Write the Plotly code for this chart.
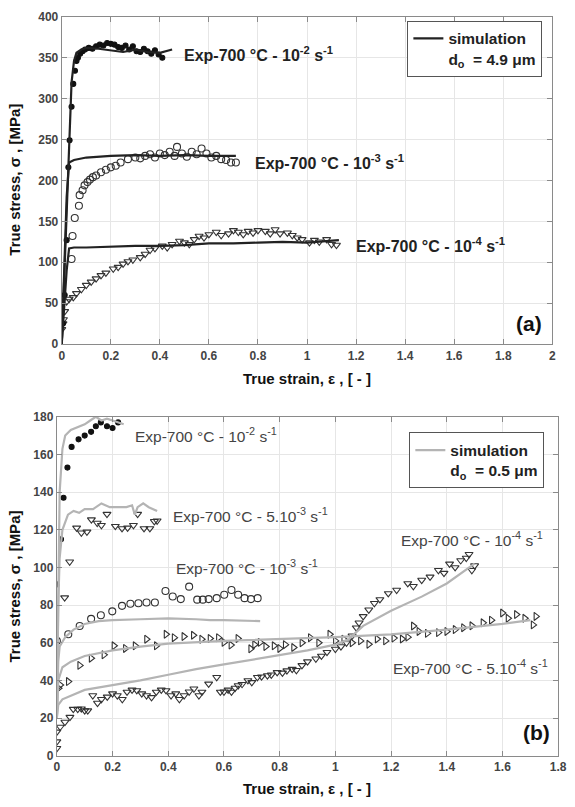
import plotly.graph_objects as go

# ---------------- Panel (a) data ----------------
sim2_a = [(0,0),(0.01,80),(0.02,180),(0.03,260),(0.04,320),(0.05,346),(0.06,356),(0.08,360),(0.1,362),(0.15,361),(0.2,359),(0.25,357),(0.3,360),(0.35,357),(0.4,356),(0.45,360)]
exp2_a = [(0.005,25),(0.012,60),(0.02,127),(0.027,216),(0.032,249),(0.04,290),(0.047,318),(0.054,334),(0.06,346),(0.066,350),(0.075,355),(0.085,358),(0.095,360),(0.11,362),(0.125,361),(0.14,364),(0.155,366),(0.17,365),(0.185,368),(0.2,367),(0.215,366),(0.23,363),(0.245,362),(0.26,365),(0.275,360),(0.29,364),(0.305,358),(0.32,357),(0.335,361),(0.35,358),(0.365,355),(0.38,359),(0.395,354),(0.41,350)]
sim3_a = [(0,0),(0.01,90),(0.02,180),(0.03,222),(0.05,225),(0.1,228),(0.15,229),(0.2,230),(0.3,231),(0.4,230),(0.5,231),(0.6,230),(0.71,230)]
exp3_a = [(0.04,104),(0.044,132),(0.053,154),(0.07,169),(0.073,182),(0.085,188),(0.093,194),(0.105,198),(0.115,201),(0.127,204),(0.14,206),(0.16,210),(0.18,213),(0.2,216),(0.22,218),(0.24,222),(0.27,226),(0.3,228),(0.32,227),(0.34,230),(0.36,232),(0.38,228),(0.4,233),(0.42,231),(0.44,235),(0.46,230),(0.47,241),(0.49,233),(0.51,229),(0.53,235),(0.55,232),(0.57,239),(0.59,233),(0.61,228),(0.63,230),(0.65,226),(0.67,225),(0.69,222),(0.71,222)]
sim4_a = [(0,0),(0.01,40),(0.02,90),(0.03,117),(0.05,118),(0.1,118),(0.2,119),(0.3,120),(0.4,120),(0.5,121),(0.6,123),(0.7,123),(0.8,124),(0.9,125),(1.0,124),(1.1,126),(1.13,127)]
exp4_a = [(0,18),(0.005,25),(0.007,30),(0.012,40),(0.02,52),(0.03,55),(0.047,57),(0.06,62),(0.08,67),(0.1,72),(0.12,76),(0.14,80),(0.16,84),(0.18,87),(0.21,92),(0.23,94),(0.25,98),(0.27,101),(0.29,103),(0.32,106),(0.34,110),(0.36,115),(0.38,117),(0.41,120),(0.43,118),(0.45,122),(0.48,126),(0.5,124),(0.52,122),(0.54,128),(0.56,132),(0.58,130),(0.6,134),(0.63,137),(0.65,133),(0.68,135),(0.7,139),(0.72,137),(0.74,134),(0.76,138),(0.78,136),(0.8,139),(0.83,138),(0.85,135),(0.87,140),(0.89,135),(0.92,136),(0.94,133),(0.96,130),(0.98,128),(1.01,124),(1.03,127),(1.05,125),(1.08,128),(1.1,122),(1.12,121)]

# ---------------- Panel (b) data ----------------
sim2_b = [(0,20),(0.005,100),(0.01,140),(0.02,163),(0.03,170),(0.05,173),(0.08,175),(0.1,176),(0.12,178),(0.14,180),(0.16,178),(0.18,179),(0.2,178),(0.22,177),(0.24,176)]
exp2_b = [(0,91),(0.015,115),(0.024,137),(0.038,153),(0.053,164),(0.078,168),(0.1,170),(0.123,172),(0.14,175),(0.158,177),(0.18,175),(0.2,174),(0.22,177)]
sim53_b = [(0,20),(0.005,80),(0.01,105),(0.02,120),(0.04,128),(0.06,130),(0.08,129),(0.1,131),(0.13,131),(0.16,134),(0.19,132),(0.22,132),(0.25,132),(0.27,133),(0.28,128),(0.29,132),(0.31,134),(0.33,132),(0.36,130)]
exp53_b = [(0.028,84),(0.046,103),(0.071,121),(0.088,118.4),(0.108,118.9),(0.124,125.4),(0.145,123.6),(0.16,122.4),(0.18,128.3),(0.21,121.9),(0.234,120.7),(0.254,121),(0.275,122.4),(0.29,128.3),(0.313,120.7),(0.334,120.7),(0.35,124.5),(0.36,124.8)]
sim3_b = [(0,20),(0.005,50),(0.01,58),(0.03,63),(0.06,67),(0.1,70),(0.15,71.5),(0.2,72),(0.3,72.5),(0.4,73),(0.5,72.5),(0.55,72),(0.6,72),(0.7,71.5),(0.73,71.5)]
exp3_b = [(0,61),(0.041,64.5),(0.082,68.9),(0.123,72.7),(0.158,74.6),(0.199,76.7),(0.234,79.6),(0.264,80.7),(0.293,81),(0.322,81.4),(0.352,81.4),(0.39,87.5),(0.416,84.6),(0.445,83.2),(0.475,89.8),(0.504,82.9),(0.524,82.9),(0.545,83.2),(0.574,83.7),(0.601,85.5),(0.627,88),(0.651,85.5),(0.674,83.7),(0.697,83.2),(0.721,83.7)]
sim54_b = [(0,20),(0.005,40),(0.02,47),(0.05,50),(0.1,53),(0.2,56),(0.3,58),(0.4,59.5),(0.6,61),(0.8,62),(1.0,63),(1.2,64.5),(1.4,67),(1.6,70),(1.7,72)]
exp54_b = [(0.006,35.9),(0.012,37.6),(0.041,39.4),(0.082,48),(0.123,51.8),(0.169,53.6),(0.205,58.4),(0.246,57),(0.281,58.4),(0.322,61.9),(0.357,58.4),(0.392,64.5),(0.421,62.7),(0.456,63.3),(0.49,64),(0.52,61.9),(0.55,62.3),(0.58,62.7),(0.6,60.2),(0.625,58.8),(0.65,62.3),(0.696,56.8),(0.71,59),(0.73,60.2),(0.75,58),(0.78,58.4),(0.8,57),(0.82,59),(0.85,57.5),(0.88,60),(0.91,62.7),(0.94,60),(0.98,64.5),(1.0,61),(1.03,61.9),(1.06,60),(1.09,61),(1.12,59.2),(1.15,62),(1.18,61),(1.21,62.5),(1.24,62),(1.26,63),(1.28,68.9),(1.3,66),(1.33,65),(1.37,65.4),(1.4,66),(1.43,67),(1.46,68),(1.49,69),(1.53,70.6),(1.56,72),(1.6,75.8),(1.62,73),(1.65,75),(1.68,73),(1.71,69.5),(1.72,74)]
sim4_b = [(0,20),(0.005,27),(0.02,30),(0.05,32),(0.1,35),(0.2,37.5),(0.3,40),(0.4,43),(0.5,46),(0.6,48.5),(0.7,51),(0.8,53.5),(0.9,56),(1.0,59),(1.05,62),(1.07,65),(1.1,69),(1.2,77),(1.31,84.5),(1.4,91.5),(1.45,96.7),(1.5,102)]
exp4_b = [(0,4),(0,7.5),(0,12.7),(0.012,15.3),(0.029,17.9),(0.047,20.5),(0.059,24.8),(0.075,24.8),(0.088,25),(0.1,24),(0.111,24),(0.129,32),(0.146,28),(0.16,30),(0.181,31.3),(0.2,33),(0.217,32),(0.235,30),(0.252,33.9),(0.27,35),(0.287,34.7),(0.305,33),(0.322,32),(0.34,31),(0.357,33.9),(0.375,35),(0.392,34.7),(0.41,32),(0.427,33),(0.44,30),(0.457,32),(0.475,34),(0.492,35.6),(0.51,32),(0.521,33.9),(0.545,38.2),(0.574,41.7),(0.587,33.9),(0.6,34),(0.615,35),(0.627,33.9),(0.64,36),(0.651,37.3),(0.665,38),(0.686,40),(0.7,39),(0.72,41.7),(0.735,42),(0.756,42.6),(0.77,43),(0.791,44.3),(0.81,44),(0.826,45.2),(0.845,46),(0.86,45.4),(0.88,48),(0.9,50),(0.93,51.5),(0.95,53),(0.97,55),(1.0,56.7),(1.02,58),(1.04,60),(1.06,63.7),(1.075,68),(1.085,70.6),(1.1,74),(1.12,77.5),(1.14,81),(1.16,83),(1.19,86.2),(1.22,88),(1.26,91.5),(1.28,90),(1.31,93.3),(1.34,95),(1.37,98.5),(1.39,97),(1.41,101.9),(1.43,100),(1.45,103.7),(1.47,105),(1.48,107),(1.49,98.5),(1.5,101)]

xticks_a = [0, 0.2, 0.4, 0.6, 0.8, 1, 1.2, 1.4, 1.6, 1.8, 2]
yticks_a = [0, 50, 100, 150, 200, 250, 300, 350, 400]
xticks_b = [0, 0.2, 0.4, 0.6, 0.8, 1, 1.2, 1.4, 1.6, 1.8]
yticks_b = [0, 20, 40, 60, 80, 100, 120, 140, 160, 180]

labels_a = [("Exp-700 °C - 10<sup>-2</sup> s<sup>-1</sup>", 0.49, 355),
            ("Exp-700 °C - 10<sup>-3</sup> s<sup>-1</sup>", 0.78, 222),
            ("Exp-700 °C - 10<sup>-4</sup> s<sup>-1</sup>", 1.19, 121)]
labels_b = [("Exp-700 °C - 10<sup>-2</sup> s<sup>-1</sup>", 0.274, 170.5),
            ("Exp-700 °C - 5.10<sup>-3</sup> s<sup>-1</sup>", 0.41, 128),
            ("Exp-700 °C - 10<sup>-3</sup> s<sup>-1</sup>", 0.42, 100),
            ("Exp-700 °C - 10<sup>-4</sup> s<sup>-1</sup>", 1.23, 115),
            ("Exp-700 °C - 5.10<sup>-4</sup> s<sup>-1</sup>", 1.2, 47)]

FONT = "Liberation Sans, Arial, sans-serif"
W, H = 575, 807


def xs(p):
    return [a for a, b in p]


def ys(p):
    return [b for a, b in p]


fig = go.Figure()


def line(p, color, xa, ya, name=None, legend=None, show=False, width=2.2):
    fig.add_trace(go.Scatter(x=xs(p), y=ys(p), mode="lines", line=dict(color=color, width=width),
                             xaxis=xa, yaxis=ya, name=name or "", showlegend=show,
                             legend=legend or "legend"))


def mark(p, sym, xa, ya, color="#333", size=7, lw=1.1):
    fig.add_trace(go.Scatter(x=xs(p), y=ys(p), mode="markers", xaxis=xa, yaxis=ya, showlegend=False,
                             marker=dict(symbol=sym, size=size, color=color,
                                         line=dict(color=color, width=lw))))


mark(exp4_a, "triangle-down-open", "x", "y")
mark(exp3_a, "circle-open", "x", "y")
mark(exp2_a, "circle", "x", "y", color="#111", size=5)
line(sim4_a, "#222", "x", "y")
line(sim3_a, "#222", "x", "y")
line(sim2_a, "#222", "x", "y", name="simulation<br>d<sub>o</sub>\u00a0 = 4.9 μm", show=True, legend="legend")

mark(exp4_b, "triangle-down-open", "x2", "y2")
mark(exp54_b, "triangle-right-open", "x2", "y2")
mark(exp3_b, "circle-open", "x2", "y2")
mark(exp53_b, "triangle-down-open", "x2", "y2")
mark(exp2_b, "circle", "x2", "y2", color="#111", size=5)
GR = "#b4b4b4"
line(sim4_b, GR, "x2", "y2")
line(sim54_b, GR, "x2", "y2")
line(sim3_b, GR, "x2", "y2")
line(sim53_b, GR, "x2", "y2")
line(sim2_b, GR, "x2", "y2", name="simulation<br>d<sub>o</sub>\u00a0 = 0.5 μm", show=True, legend="legend2")

axis_common = dict(showgrid=True, gridcolor="#e6e6e6", gridwidth=1, zeroline=False,
                   showline=True, linecolor="#8a8a8a", linewidth=1.2, mirror="allticks",
                   ticks="inside", ticklen=5, tickcolor="#8a8a8a",
                   tickfont=dict(family=FONT, size=12, color="#444", weight="bold"))

legend_common = dict(xanchor="left", yanchor="top", bgcolor="white", bordercolor="#555", borderwidth=1,
                     valign="top", itemwidth=30,
                     font=dict(family=FONT, size=15.5, color="#222", weight="bold"))

fig.update_layout(
    width=W, height=H, margin=dict(l=0, r=0, t=0, b=0),
    paper_bgcolor="white", plot_bgcolor="white",
    xaxis=dict(domain=[60 / W, 561 / W], range=[0, 2], tickvals=xticks_a, anchor="y", **axis_common),
    yaxis=dict(domain=[(H - 343) / H, (H - 10) / H], range=[0, 400], tickvals=yticks_a, anchor="x", **axis_common),
    xaxis2=dict(domain=[55 / W, 567 / W], range=[0, 1.8], tickvals=xticks_b, anchor="y2", **axis_common),
    yaxis2=dict(domain=[(H - 762) / H, (H - 417) / H], range=[0, 180], tickvals=yticks_b, anchor="x2", **axis_common),
    legend=dict(x=413 / W, y=1 - 14 / H, **legend_common),
    legend2=dict(x=415 / W, y=1 - 433 / H, **legend_common),
)

ann = []
for t, xv, yv in labels_a:
    ann.append(dict(text=t, x=xv, y=yv, xref="x", yref="y", xanchor="left", yanchor="middle",
                    showarrow=False, font=dict(family=FONT, size=16, color="#222", weight="bold")))
for t, xv, yv in labels_b:
    ann.append(dict(text=t, x=xv, y=yv, xref="x2", yref="y2", xanchor="left", yanchor="middle",
                    showarrow=False, font=dict(family=FONT, size=15.5, color="#444")))
TT = dict(family=FONT, size=15, color="#111", weight="bold")
ann += [
    dict(text="(a)", x=553 / W, y=1 - 322 / H, xref="paper", yref="paper", xanchor="right", yanchor="middle",
         showarrow=False, font=dict(family=FONT, size=21, color="#111", weight="bold")),
    dict(text="(b)", x=561 / W, y=1 - 738 / H, xref="paper", yref="paper", xanchor="right", yanchor="middle",
         showarrow=False, font=dict(family=FONT, size=21, color="#111", weight="bold")),
    dict(text="True strain, ε , [ - ]", x=310 / W, y=1 - 378 / H, xref="paper", yref="paper",
         xanchor="center", yanchor="middle", showarrow=False, font=TT),
    dict(text="True strain, ε , [ - ]", x=310 / W, y=1 - 795 / H, xref="paper", yref="paper",
         xanchor="center", yanchor="middle", showarrow=False, font=TT),
    dict(text="True stress, σ , [MPa]", x=12 / W, y=1 - 176 / H, xref="paper", yref="paper", textangle=-90,
         xanchor="center", yanchor="middle", showarrow=False, font=TT),
    dict(text="True stress, σ , [MPa]", x=12 / W, y=1 - 590 / H, xref="paper", yref="paper", textangle=-90,
         xanchor="center", yanchor="middle", showarrow=False, font=TT),
]
fig.update_layout(annotations=ann)

fig.write_html("out.html")
